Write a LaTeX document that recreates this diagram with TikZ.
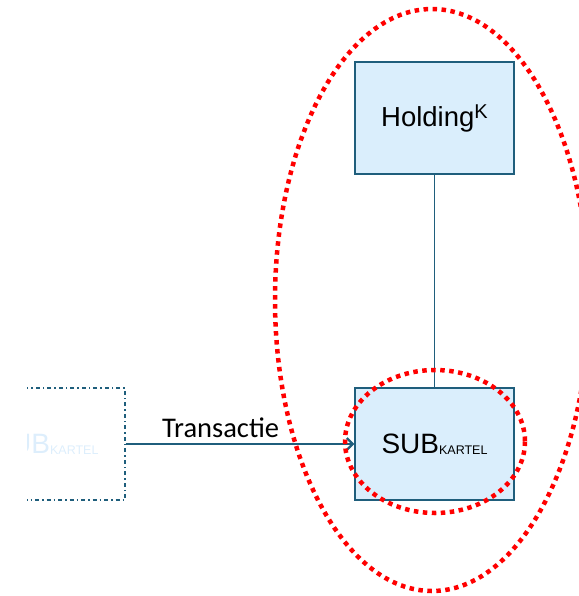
\documentclass[tikz,border=0pt]{standalone}
\usepackage{fontspec}
\setmainfont{Liberation Sans}
\newfontfamily\calib{Carlito}
\usetikzlibrary{arrows.meta}
\definecolor{boxline}{HTML}{1F5E7C}
\definecolor{boxfill}{HTML}{DAEEFC}
\definecolor{ghost}{HTML}{DDEEFC}
\definecolor{dotred}{HTML}{FF0000}
\tikzset{
  entbox/.style={draw=boxline, fill=boxfill, line width=1.4pt, minimum width=159pt, minimum height=112pt, inner sep=0pt, align=center},
  ghostbox/.style={draw=boxline, line width=1.4pt, dash pattern=on 4pt off 3pt on 1.5pt off 3pt, minimum width=159pt, minimum height=112pt, inner sep=0pt, text=ghost},
  reddots/.style={draw=dotred, line width=4.5pt, dash pattern=on 4.5pt off 4.5pt},
  conn/.style={draw=boxline, line width=1.4pt},
  flow/.style={draw=boxline, line width=2.2pt, -{Straight Barb[length=6pt,width=12pt,line width=2.2pt]}},
}
\newcommand{\subk}[1]{{\fontsize{28}{28}\selectfont SUB}{\fontsize{12.5}{12.5}\selectfont\raisebox{-1pt}{KARTEL}}}
\begin{document}
\begin{tikzpicture}[x=1pt,y=-1pt]
\useasboundingbox (0,0) rectangle (578,596);
\begin{scope}
\clip (27,-10) rectangle (600,610);
\node[ghostbox] (ghost) at (45.5,444) {\subk{}};
\node[entbox] (hold) at (434.5,118) {\fontsize{27.5}{27.5}\selectfont Holding\raisebox{8pt}{\fontsize{20}{20}\selectfont K}};
\node[entbox] (sub) at (434.5,444) {\subk{}};
\draw[conn] (hold.south) -- (sub.north);
\draw[flow] (ghost.east) -- node[pos=0.415, anchor=base, yshift=7pt, text=black] {\calib\fontsize{28.5}{28.5}\selectfont Transactie} (sub.west);
\draw[reddots] (432,300) ellipse [x radius=157, y radius=291];
\draw[reddots] (435,441.5) ellipse [x radius=90, y radius=71.5];
\end{scope}
\end{tikzpicture}
\end{document}
